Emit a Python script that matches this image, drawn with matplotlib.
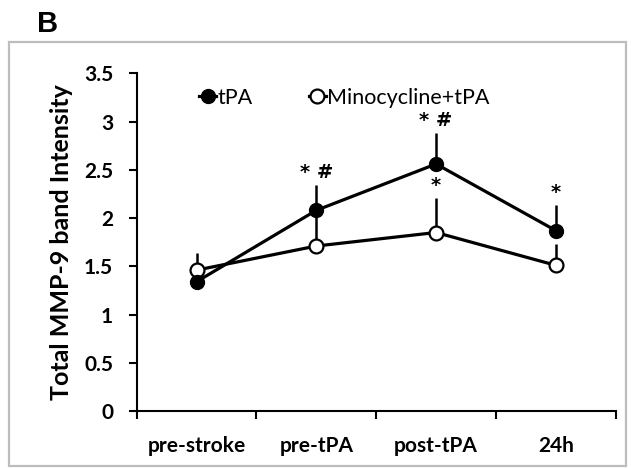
import matplotlib
matplotlib.use("Agg")
import matplotlib.pyplot as plt
from matplotlib.patches import Rectangle

categories = ["pre-stroke", "pre-tPA", "post-tPA", "24h"]
tpa = [1.34, 2.08, 2.56, 1.87]
tpa_err = [0.10, 0.26, 0.32, 0.27]
mino = [1.46, 1.71, 1.85, 1.51]
mino_err = [0.18, 0.30, 0.36, 0.22]
tpa_marks = ["", "* #", "* #", "*"]
mino_marks = ["", "", "*", ""]
yticks = [0, 0.5, 1, 1.5, 2, 2.5, 3, 3.5]
ytick_labels = ["0", "0.5", "1", "1.5", "2", "2.5", "3", "3.5"]

FONT = "Lato"
fig = plt.figure(figsize=(6.31, 4.68), dpi=100)
ax = fig.add_axes([136.7 / 631, 1 - 411 / 468, (615.7 - 136.7) / 631, (411 - 73.3) / 468])

# outer grey frame
fig.patches.append(Rectangle((9 / 631, 2 / 468), 617 / 631, (466 - 42) / 468,
                             transform=fig.transFigure, fill=False,
                             edgecolor="#bdbdbd", linewidth=1.6))
fig.text(37 / 631, 1 - 24 / 468, "B", fontsize=21, fontweight="bold",
         family="Liberation Sans", va="center", ha="left")

x = list(range(len(categories)))

# error bars (upper only)
ax.errorbar(x, mino, yerr=[[0] * 4, mino_err], fmt="none", ecolor="black",
            elinewidth=1.8, capsize=0, zorder=2)
ax.errorbar(x, tpa, yerr=[[0] * 4, tpa_err], fmt="none", ecolor="black",
            elinewidth=1.8, capsize=0, zorder=2)

ax.plot(x, tpa, color="black", lw=2.3, marker="o", ms=10, mfc="black",
        mec="black", zorder=4, label="tPA")
ax.plot(x, mino, color="black", lw=2.3, marker="o", ms=10, mfc="white",
        mec="black", mew=1.6, zorder=3, label="Minocycline+tPA")

for i, m in enumerate(tpa_marks):
    if m:
        ax.text(i, tpa[i] + tpa_err[i] + 0.03, m, ha="center", va="bottom",
                fontsize=14, fontweight="bold", family="DejaVu Sans")
for i, m in enumerate(mino_marks):
    if m:
        ax.text(i, mino[i] + mino_err[i] + 0.03, m, ha="center", va="bottom",
                fontsize=14, fontweight="bold", family="DejaVu Sans")

ax.set_xlim(-0.5, len(categories) - 0.5)
ax.set_ylim(0, 3.5)
ax.set_yticks(yticks)
ax.set_yticklabels(ytick_labels, fontsize=15, fontweight="bold", family=FONT)
ax.set_xticks([i - 0.5 for i in range(len(categories) + 1)])
ax.set_xticklabels([])
ax.set_xticks(x, minor=True)
ax.set_xticklabels(categories, minor=True, fontsize=15, fontweight="bold", family=FONT)
ax.tick_params(axis="x", which="major", length=6, width=1.5, direction="out")
ax.tick_params(axis="x", which="minor", length=0, pad=18)
ax.tick_params(axis="y", length=6, width=1.5, direction="out", pad=11)
for s in ["top", "right"]:
    ax.spines[s].set_visible(False)
for s in ["left", "bottom"]:
    ax.spines[s].set_linewidth(1.5)

ax.set_ylabel("Total MMP-9 band Intensity", fontsize=18, fontweight="bold",
              family=FONT, labelpad=8)

leg = ax.legend(loc="upper left", bbox_to_anchor=(0.09, 1.015), ncol=2, frameon=False,
                handlelength=0.8, handletextpad=0.05, columnspacing=2.6,
                prop={"family": FONT, "size": 15.5})

fig.savefig("out.png", dpi=100)
